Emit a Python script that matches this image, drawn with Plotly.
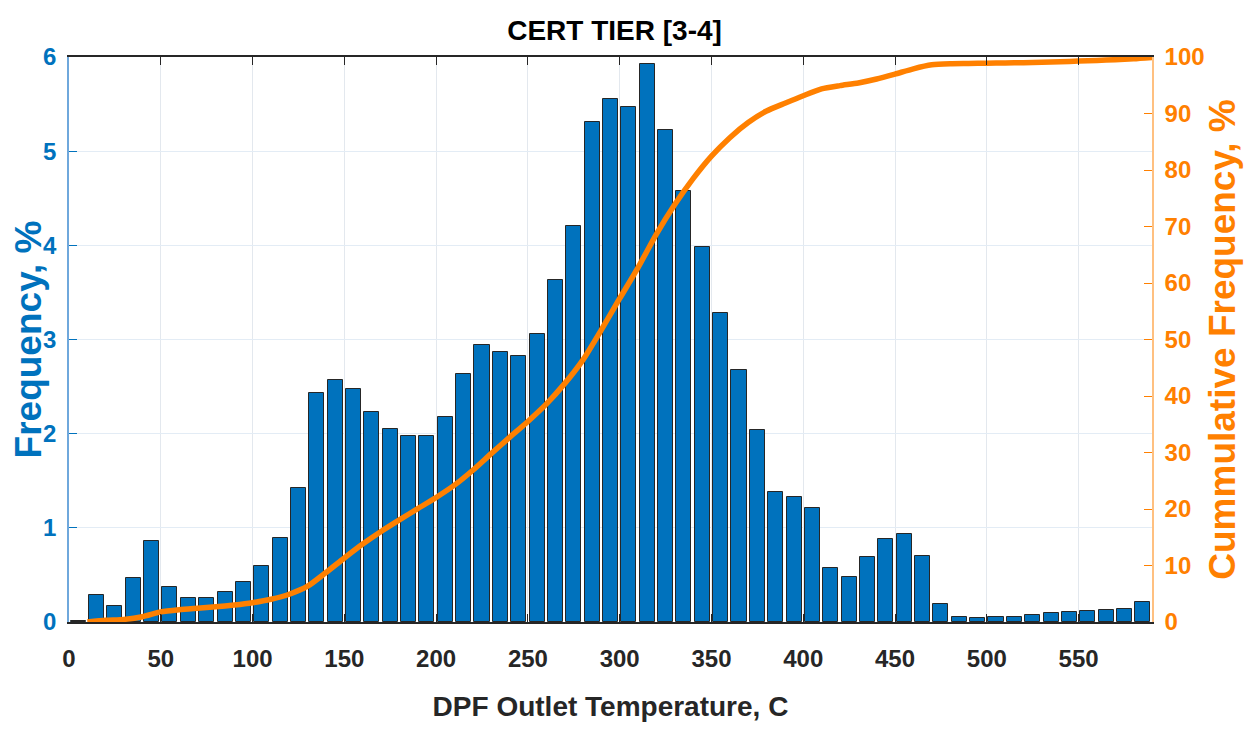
import plotly.graph_objects as go

# Bin centers (°C), bin width 10
bin_centers = [5, 15, 25, 35, 45, 55, 65, 75, 85, 95,
               105, 115, 125, 135, 145, 155, 165, 175, 185, 195,
               205, 215, 225, 235, 245, 255, 265, 275, 285, 295,
               305, 315, 325, 335, 345, 355, 365, 375, 385, 395,
               405, 415, 425, 435, 445, 455, 465, 475, 485, 495,
               505, 515, 525, 535, 545, 555, 565, 575, 585]
frequency = [0.01, 0.285, 0.166, 0.47, 0.86, 0.377, 0.257, 0.257, 0.32, 0.42,
             0.595, 0.888, 1.427, 2.43, 2.57, 2.47, 2.23, 2.05, 1.98, 1.98,
             2.18, 2.635, 2.94, 2.87, 2.83, 3.06, 3.63, 4.21, 5.31, 5.55,
             5.47, 5.93, 5.22, 4.58, 3.98, 3.28, 2.68, 2.04, 1.38, 1.33,
             1.21, 0.57, 0.48, 0.69, 0.88, 0.93, 0.70, 0.19, 0.056, 0.042,
             0.049, 0.056, 0.077, 0.095, 0.109, 0.12, 0.127, 0.141, 0.215]

# Cumulative curve, read at bin right edges
cum_x = [10, 20, 30, 40, 50, 60, 70, 80, 90, 100,
         110, 120, 130, 140, 150, 160, 170, 180, 190, 200,
         210, 220, 230, 240, 250, 260, 270, 280, 290, 300,
         310, 320, 330, 340, 350, 360, 370, 380, 390, 400,
         410, 420, 430, 440, 450, 460, 470, 480, 490, 500,
         510, 520, 530, 540, 550, 560, 570, 580, 590]
cum_freq = [0.01, 0.30, 0.46, 0.93, 1.79, 2.17, 2.43, 2.68, 3.00, 3.42,
            4.02, 4.91, 6.33, 8.76, 11.33, 13.80, 16.03, 18.08, 20.06, 22.04,
            24.22, 26.86, 29.80, 32.67, 35.50, 38.56, 42.19, 46.40, 51.71, 57.26,
            62.73, 68.66, 73.88, 78.46, 82.44, 85.72, 88.40, 90.44, 91.82, 93.15,
            94.36, 94.93, 95.41, 96.10, 96.98, 97.91, 98.61, 98.80, 98.85, 98.90,
            98.94, 99.00, 99.08, 99.17, 99.28, 99.40, 99.53, 99.67, 99.90]

x_ticks = [0, 50, 100, 150, 200, 250, 300, 350, 400, 450, 500, 550]

BLUE = "#0072BD"
ORANGE = "#FF8000"
FONT = "Liberation Sans, Arial, sans-serif"

fig = go.Figure()
fig.add_trace(go.Bar(
    x=bin_centers, y=frequency, width=8.2,
    marker=dict(color=BLUE, line=dict(color="#262626", width=1)),
    yaxis="y", showlegend=False,
))
fig.add_trace(go.Scatter(
    x=cum_x, y=cum_freq, mode="lines",
    line=dict(color=ORANGE, width=5.5, shape="spline", smoothing=0.6),
    yaxis="y2", showlegend=False,
))

fig.update_layout(
    width=1246, height=730,
    margin=dict(l=61, r=102, t=49, b=116, autoexpand=False),
    paper_bgcolor="white", plot_bgcolor="white",
    font=dict(family=FONT, weight="bold", size=22),
    title=dict(text="CERT TIER [3-4]", x=0.4868, xanchor="center", y=0.970, yanchor="middle",
               font=dict(size=28, color="black", family=FONT, weight="bold")),
    xaxis=dict(range=[0, 590], tickvals=x_ticks, ticks="inside", ticklen=8,
               tickcolor="#262626", showline=True, linecolor="#262626", linewidth=1.5,
               mirror="ticks", showgrid=True, gridcolor="#E3E8EE", zeroline=False,
               tickfont=dict(size=24, color="#262626"), ticklabelstandoff=14,
               automargin=False,
               title=dict(text="DPF Outlet Temperature, C", font=dict(size=28, color="#262626"),
                          standoff=26)),
    yaxis=dict(range=[0, 6], dtick=1, ticks="inside", ticklen=8, tickcolor=BLUE,
               showline=True, linecolor="#6FA8DC", linewidth=1.5,
               showgrid=True, gridcolor="#E3ECF5", zeroline=False,
               tickfont=dict(size=24, color=BLUE), ticklabelstandoff=6,
               automargin=False,
               title=dict(text="Frequency, %", font=dict(size=37, color=BLUE), standoff=4)),
    yaxis2=dict(range=[0, 100], dtick=10, overlaying="y", side="right",
                ticks="inside", ticklen=8, tickcolor=ORANGE,
                showline=True, linecolor="#FFC080", linewidth=1.5,
                showgrid=False, zeroline=False,
                tickfont=dict(size=24, color=ORANGE), ticklabelstandoff=6,
                automargin=False,
                title=dict(text="Cummulative Frequency, %", font=dict(size=37, color=ORANGE), standoff=6)),
    bargap=0,
)

fig.write_html("out.html")
